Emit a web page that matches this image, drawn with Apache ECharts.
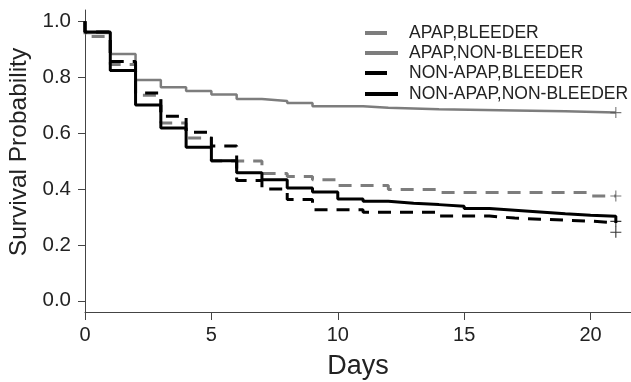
<!DOCTYPE html>
<html>
<head>
<meta charset="utf-8">
<script src="https://cdn.jsdelivr.net/npm/echarts@6/dist/echarts.min.js"></script>
<style>
  html, body { margin: 0; padding: 0; background: #fff; }
  #chart { width: 631px; height: 382px; }
</style>
</head>
<body>
<div id="chart"></div>
<script>
// Kaplan-Meier steps: day where each value starts, survival value from that day
const apapBleederDays = [0, 0, 1, 2, 3, 4, 5, 7, 8, 9, 10, 12, 14, 20, 21];
const apapBleederSurv = [1.0, 0.945, 0.845, 0.735, 0.636, 0.582, 0.500, 0.455, 0.445, 0.433, 0.412, 0.398, 0.387, 0.375, 0.375];

const apapNonBleederDays = [0, 0, 1, 2, 3, 4, 5, 6, 7, 8, 9, 11, 12, 13, 14, 17, 19, 21];
const apapNonBleederSurv = [1.0, 0.958, 0.883, 0.790, 0.764, 0.750, 0.738, 0.722, 0.715, 0.707, 0.696, 0.690, 0.688, 0.685, 0.681, 0.678, 0.673, 0.673];

const nonApapBleederDays = [0, 0, 1, 2, 3, 4, 5, 6, 7, 8, 9, 11, 14, 16, 17, 18, 20, 21];
const nonApapBleederSurv = [1.0, 0.961, 0.856, 0.743, 0.660, 0.603, 0.554, 0.430, 0.400, 0.362, 0.326, 0.317, 0.303, 0.296, 0.292, 0.285, 0.279, 0.279];

const nonApapNonBleederDays = [0, 0, 1, 2, 3, 4, 5, 6, 7, 8, 9, 10, 11, 12, 13, 14, 15, 16, 17, 18, 19, 20, 21, 21];
const nonApapNonBleederSurv = [1.0, 0.961, 0.824, 0.700, 0.618, 0.549, 0.501, 0.458, 0.433, 0.403, 0.389, 0.364, 0.356, 0.349, 0.344, 0.338, 0.330, 0.324, 0.318, 0.311, 0.306, 0.302, 0.302, 0.278];

// censor marks (+) at the end of follow-up
const censorGreyDays = [21, 21];
const censorGreySurv = [0.673, 0.375];
const censorBlackDays = [21, 21];
const censorBlackSurv = [0.284, 0.245];

const seriesNames = ['APAP,BLEEDER', 'APAP,NON-BLEEDER', 'NON-APAP,BLEEDER', 'NON-APAP,NON-BLEEDER'];
const xTicks = [0, 5, 10, 15, 20];
const yTicks = [0, 0.2, 0.4, 0.6, 0.8, 1.0];

const GREY = '#7d7d7d';
const BLACK = '#000000';
const FONT = '"Liberation Sans", Arial, Helvetica, sans-serif';

const zip = (xs, ys) => xs.map((x, i) => [x, ys[i]]);
const plus = 'path://M4.5,0h1v10h-1z M0,4.5h10v1h-10z';

function stepLine(name, days, surv, color, width, dashed) {
  return {
    name, type: 'line', step: 'end', data: zip(days, surv),
    showSymbol: false, symbol: 'none', animation: false,
    lineStyle: { color, width, type: dashed ? [13, 9] : 'solid', cap: 'butt' },
    itemStyle: { color }
  };
}

function legendRow(name, top, color, dashed) {
  return {
    top, left: 360, orient: 'vertical',
    itemWidth: dashed ? 22 : 33, itemHeight: 4, itemGap: 0,
    icon: 'rect', selectedMode: false,
    data: [{ name, itemStyle: { color, borderWidth: 0 } }],
    textStyle: {
      fontFamily: FONT, fontSize: 17.5, color: '#222', lineHeight: 20,
      padding: [0, 0, 0, dashed ? 17 : 6]
    }
  };
}

const chart = echarts.init(document.getElementById('chart'), null, { renderer: 'canvas' });

chart.setOption({
  backgroundColor: '#fff',
  animation: false,
  grid: { left: 85, right: 0, top: 10, bottom: 70, outerBoundsMode: 'none', containLabel: false },
  legend: [
    legendRow(seriesNames[0], 18, GREY, true),
    legendRow(seriesNames[1], 38, GREY, false),
    legendRow(seriesNames[2], 58, BLACK, true),
    legendRow(seriesNames[3], 79, BLACK, false)
  ],
  xAxis: {
    type: 'value', min: 0, max: 21.6,
    name: 'Days', nameLocation: 'middle', nameGap: 41,
    nameTextStyle: { fontFamily: FONT, fontSize: 27, color: '#222' },
    axisLine: { onZero: false, lineStyle: { color: '#444', width: 1 } },
    axisTick: { show: true, inside: false, length: 8, customValues: xTicks, lineStyle: { color: '#444' } },
    axisLabel: {
      customValues: xTicks, margin: 13,
      fontFamily: FONT, fontSize: 20, color: '#222'
    },
    splitLine: { show: false }
  },
  yAxis: {
    type: 'value', min: -0.04, max: 1.04,
    name: 'Survival Probability', nameLocation: 'middle', nameGap: 49,
    nameTextStyle: { fontFamily: FONT, fontSize: 24.5, color: '#222', padding: [0, 0, 0, 18] },
    axisLine: { show: true, onZero: false, lineStyle: { color: '#444', width: 1 } },
    axisTick: { show: true, inside: false, length: 7, customValues: yTicks, lineStyle: { color: '#444' } },
    axisLabel: {
      customValues: yTicks, margin: 14,
      fontFamily: FONT, fontSize: 20.5, color: '#222',
      formatter: (v) => v.toFixed(1)
    },
    splitLine: { show: false }
  },
  series: [
    stepLine(seriesNames[0], apapBleederDays, apapBleederSurv, GREY, 3, true),
    stepLine(seriesNames[1], apapNonBleederDays, apapNonBleederSurv, GREY, 2.5, false),
    stepLine(seriesNames[2], nonApapBleederDays, nonApapBleederSurv, BLACK, 3, true),
    stepLine(seriesNames[3], nonApapNonBleederDays, nonApapNonBleederSurv, BLACK, 3, false),
    {
      type: 'scatter', data: zip(censorGreyDays, censorGreySurv), symbol: plus, symbolSize: 11,
      itemStyle: { color: '#555' }, silent: true, z: 5
    },
    {
      type: 'scatter', data: zip(censorBlackDays, censorBlackSurv), symbol: plus, symbolSize: 11,
      itemStyle: { color: BLACK }, silent: true, z: 5
    }
  ]
});
</script>
</body>
</html>
